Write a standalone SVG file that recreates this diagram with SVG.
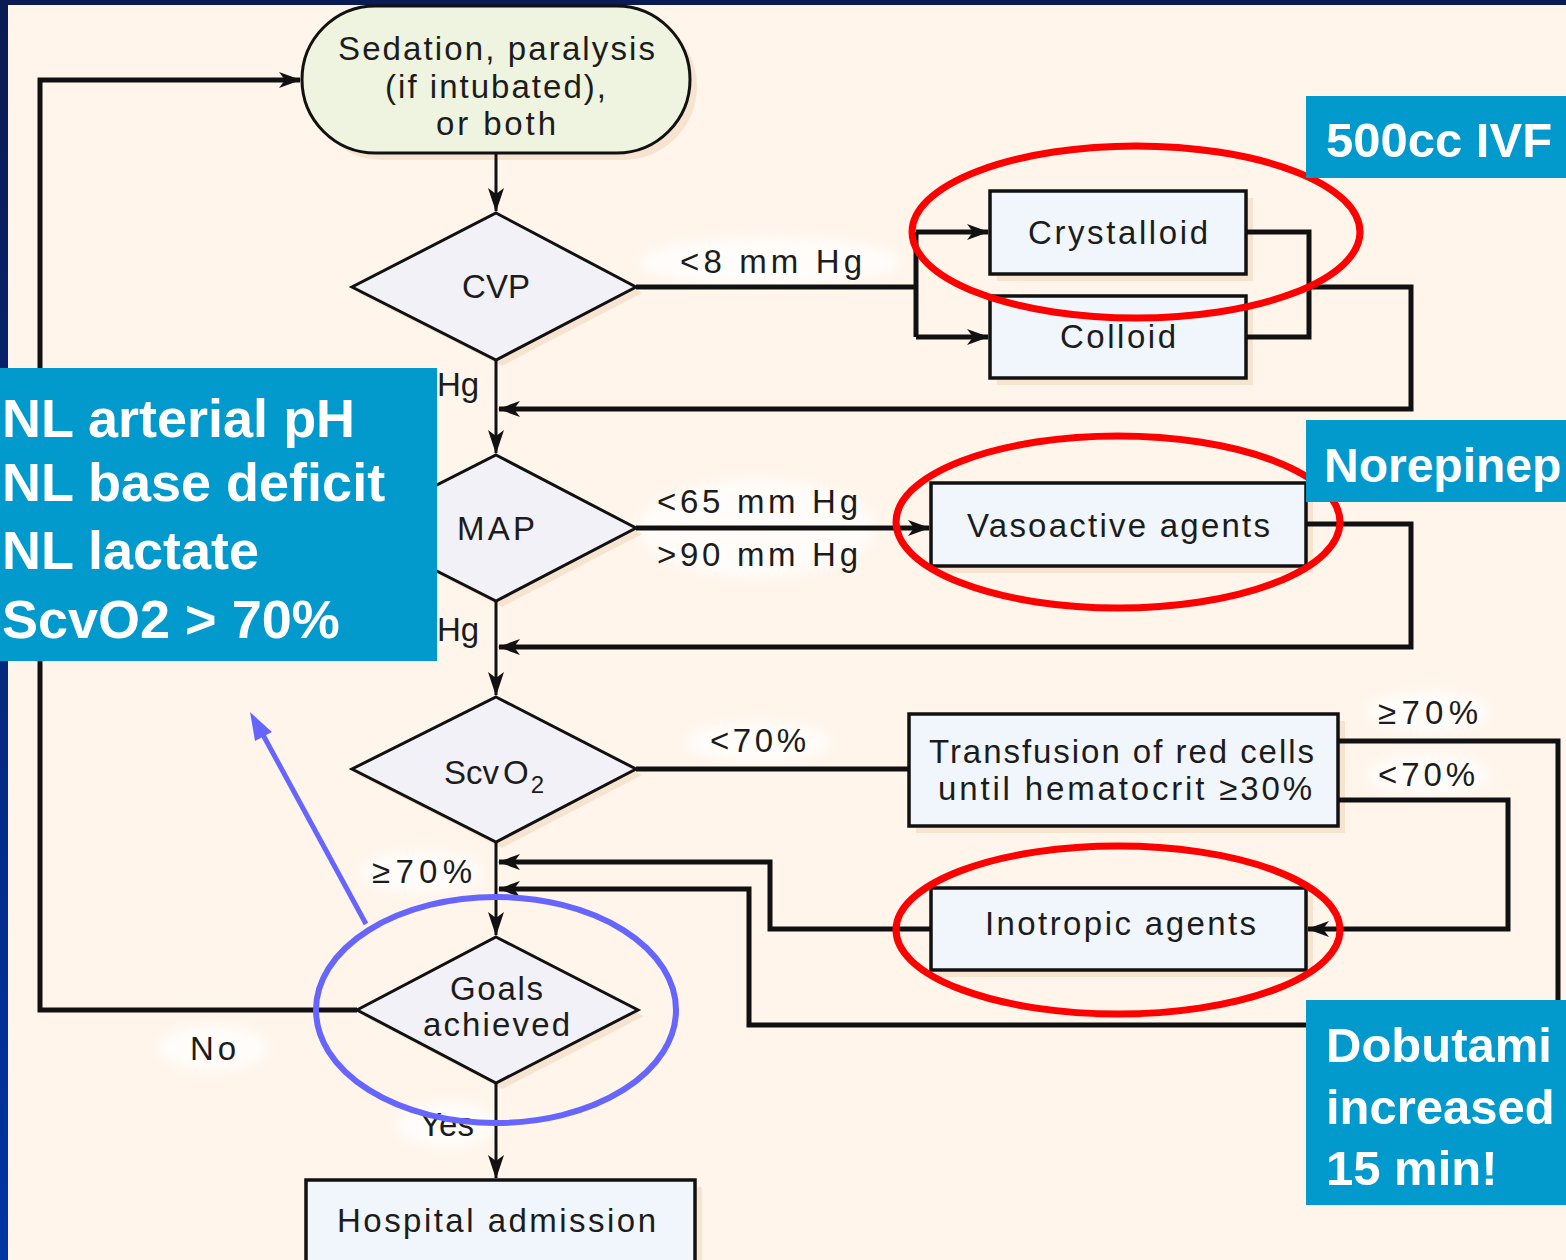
<svg xmlns="http://www.w3.org/2000/svg" width="1566" height="1260" viewBox="0 0 1566 1260">
<defs>
<linearGradient id="frameG" x1="0" y1="0" x2="0" y2="1">
<stop offset="0" stop-color="#0a1a52"/>
<stop offset="1" stop-color="#0035a5"/>
</linearGradient>
<filter id="glow" x="-30%" y="-50%" width="160%" height="200%"><feGaussianBlur stdDeviation="6"/></filter>
<marker id="ah" viewBox="0 0 22 16" refX="21" refY="8" markerWidth="22" markerHeight="16" markerUnits="userSpaceOnUse" orient="auto">
<path d="M0,0 L22,8 L0,16 L6,8 Z" fill="#111"/>
</marker>
<marker id="ahs" viewBox="0 0 24 16" refX="23" refY="8" markerWidth="24" markerHeight="16" markerUnits="userSpaceOnUse" orient="auto">
<path d="M0,0 L24,8 L0,16 L6,8 Z" fill="#111"/>
</marker>
</defs>
<style>
.t{font-family:"Liberation Sans",Arial,sans-serif;font-size:33px;fill:#1c1c1c;}
.box{fill:#f1f6fc;stroke:#111;stroke-width:3.5;}
.dia{fill:#f2f1f7;stroke:#111;stroke-width:3;}
.sh{fill:#f6e4d0;}
.thin{fill:none;stroke:#111;stroke-width:3;}
.thick{fill:none;stroke:#111;stroke-width:5;}
.gl{fill:#ffffff;opacity:0.75;filter:url(#glow);}
.red{fill:none;stroke:#ff0000;stroke-width:7;}
.pan{fill:#0299cc;}
.pt{font-family:"Liberation Sans",Arial,sans-serif;font-weight:bold;fill:#ffffff;}
</style>
<rect x="0" y="0" width="1566" height="1260" fill="#fff5eb"/>
<rect x="0" y="0" width="1566" height="5" fill="#0b1b55"/>
<rect x="0" y="0" width="8" height="1260" fill="url(#frameG)"/>

<g id="label-glows">
<ellipse class="gl" cx="770" cy="262" rx="130" ry="24"/>
<ellipse class="gl" cx="757" cy="528" rx="118" ry="48"/>
<ellipse class="gl" cx="758" cy="742" rx="72" ry="20"/>
<ellipse class="gl" cx="1428" cy="712" rx="62" ry="20"/>
<ellipse class="gl" cx="1428" cy="775" rx="62" ry="20"/>
<ellipse class="gl" cx="422" cy="872" rx="62" ry="20"/>
<ellipse class="gl" cx="213" cy="1048" rx="55" ry="22"/>
<ellipse class="gl" cx="447" cy="1125" rx="50" ry="22"/>
</g>

<g id="shadows">
<rect class="sh" x="309" y="13" width="388" height="147" rx="73.5"/>
<polygon class="sh" points="502,219 642,293 502,366 358,293"/>
<rect class="sh" x="997" y="198" width="256" height="83"/>
<rect class="sh" x="997" y="303" width="256" height="82"/>
<polygon class="sh" points="502,461 642,534 502,607 358,534"/>
<rect class="sh" x="938" y="490" width="375" height="83"/>
<polygon class="sh" points="502,703 642,775 502,848 358,775"/>
<rect class="sh" x="916" y="721" width="429" height="112"/>
<rect class="sh" x="938" y="895" width="375" height="82"/>
<polygon class="sh" points="502,943 644,1016 502,1089 363,1016"/>
<rect class="sh" x="313" y="1187" width="389" height="90"/>
</g>

<g id="connectors">
<path class="thin" d="M496,153 V211" marker-end="url(#ahs)"/>
<path class="thick" d="M636,287 H916"/>
<path class="thick" d="M916,232 V337"/>
<path class="thick" d="M916,232 H988" marker-end="url(#ah)"/>
<path class="thick" d="M916,337 H988" marker-end="url(#ah)"/>
<path class="thick" d="M1246,232 H1309 V337 H1246"/>
<path class="thick" d="M1309,287 H1411 V409 H499" marker-end="url(#ah)"/>
<path class="thin" d="M496,360 V453" marker-end="url(#ahs)"/>
<path class="thick" d="M636,528 H929" marker-end="url(#ah)"/>
<path class="thick" d="M1306,524 H1411 V647 H499" marker-end="url(#ah)"/>
<path class="thin" d="M496,601 V695" marker-end="url(#ahs)"/>
<path class="thick" d="M636,769 H909"/>
<path class="thick" d="M1338,741 H1558 V1025 H749 V889 H499" marker-end="url(#ah)"/>
<path class="thick" d="M1338,800 H1508 V929 H1308" marker-end="url(#ah)"/>
<path class="thick" d="M931,929 H770 V862 H499" marker-end="url(#ah)"/>
<path class="thin" d="M496,842 V935" marker-end="url(#ahs)"/>
<path class="thick" d="M357,1010 H40 V80 H300" marker-end="url(#ah)"/>
<path class="thin" d="M496,1083 V1178" marker-end="url(#ahs)"/>
</g>

<g id="node-start">
<rect x="302" y="6" width="388" height="147" rx="73.5" fill="#eef4df" stroke="#111" stroke-width="3"/>
<text class="t" x="338" y="60" textLength="317" lengthAdjust="spacing">Sedation, paralysis</text>
<text class="t" x="385" y="98" textLength="221" lengthAdjust="spacing">(if intubated),</text>
<text class="t" x="436" y="135" textLength="120" lengthAdjust="spacing">or both</text>
</g>

<g id="node-cvp">
<polygon class="dia" points="496,213 636,287 496,360 352,287"/>
<text class="t" x="462" y="298" textLength="68" lengthAdjust="spacing">CVP</text>
</g>

<g id="node-crystalloid">
<rect class="box" x="990" y="191" width="256" height="83"/>
<text class="t" x="1028" y="244" textLength="180" lengthAdjust="spacing">Crystalloid</text>
</g>

<g id="node-colloid">
<rect class="box" x="990" y="296" width="256" height="82"/>
<text class="t" x="1060" y="348" textLength="116" lengthAdjust="spacing">Colloid</text>
</g>

<g id="node-map">
<polygon class="dia" points="496,455 636,528 496,601 352,528"/>
<text class="t" x="457" y="540" textLength="78" lengthAdjust="spacing">MAP</text>
</g>

<g id="node-vasoactive">
<rect class="box" x="931" y="483" width="375" height="83"/>
<text class="t" x="967" y="537" textLength="303" lengthAdjust="spacing">Vasoactive agents</text>
</g>

<g id="node-scvo2">
<polygon class="dia" points="496,697 636,769 496,842 352,769"/>
<text class="t" x="444" y="784">Scv<tspan dx="4">O</tspan><tspan dx="2" dy="9" font-size="24">2</tspan></text>
</g>

<g id="node-transfusion">
<rect class="box" x="909" y="714" width="429" height="112"/>
<text class="t" x="929" y="763" textLength="385" lengthAdjust="spacing">Transfusion of red cells</text>
<text class="t" x="938" y="800" textLength="374" lengthAdjust="spacing">until hematocrit ≥30%</text>
</g>

<g id="node-inotropic">
<rect class="box" x="931" y="888" width="375" height="82"/>
<text class="t" x="985" y="935" textLength="271" lengthAdjust="spacing">Inotropic agents</text>
</g>

<g id="node-goals">
<polygon class="dia" points="496,937 638,1010 496,1083 357,1010"/>
<text class="t" x="450" y="1000" textLength="93" lengthAdjust="spacing">Goals</text>
<text class="t" x="423" y="1036" textLength="147" lengthAdjust="spacing">achieved</text>
</g>

<g id="node-hospital">
<rect class="box" x="306" y="1180" width="389" height="90"/>
<text class="t" x="337" y="1232" textLength="319" lengthAdjust="spacing">Hospital admission</text>
</g>

<g id="edge-labels">
<text class="t" x="680" y="273" textLength="182" lengthAdjust="spacing">&lt;8 mm Hg</text>
<text class="t" x="437" y="396">Hg</text>
<text class="t" x="657" y="513" textLength="201" lengthAdjust="spacing">&lt;65 mm Hg</text>
<text class="t" x="657" y="566" textLength="201" lengthAdjust="spacing">&gt;90 mm Hg</text>
<text class="t" x="437" y="641">Hg</text>
<text class="t" x="710" y="752" textLength="96" lengthAdjust="spacing">&lt;70%</text>
<text class="t" x="1378" y="724" textLength="100" lengthAdjust="spacing">≥70%</text>
<text class="t" x="1378" y="786" textLength="97" lengthAdjust="spacing">&lt;70%</text>
<text class="t" x="372" y="883" textLength="100" lengthAdjust="spacing">≥70%</text>
<text class="t" x="190" y="1060" textLength="46" lengthAdjust="spacing">No</text>
<text class="t" x="420" y="1136" textLength="54" lengthAdjust="spacing">Yes</text>
</g>

<g id="annotations">
<ellipse class="red" cx="1136" cy="232" rx="224" ry="86"/>
<ellipse class="red" cx="1118" cy="522" rx="222" ry="86"/>
<ellipse class="red" cx="1118" cy="930" rx="222" ry="84"/>
<ellipse cx="496" cy="1010" rx="180" ry="113" fill="none" stroke="#6666ff" stroke-width="6"/>
<line x1="366" y1="924" x2="262" y2="733" stroke="#6666ff" stroke-width="5"/>
<polygon points="250,712 272,732 255,741" fill="#6666ff"/>
</g>

<g id="panel-goals">
<rect class="pan" x="0" y="368" width="437" height="293"/>
<text class="pt" x="2" y="437" font-size="54">NL arterial pH</text>
<text class="pt" x="2" y="501" font-size="54">NL base deficit</text>
<text class="pt" x="2" y="569" font-size="54">NL lactate</text>
<text class="pt" x="2" y="638" font-size="54">ScvO2 &gt; 70%</text>
</g>

<g id="panel-ivf">
<rect class="pan" x="1306" y="96" width="260" height="82"/>
<text class="pt" x="1326" y="157" font-size="49">500cc IVF</text>
</g>

<g id="panel-norepi">
<rect class="pan" x="1306" y="420" width="260" height="82"/>
<text class="pt" x="1324" y="482" font-size="48">Norepinep</text>
</g>

<g id="panel-dobutamine">
<rect class="pan" x="1306" y="1000" width="260" height="205"/>
<text class="pt" x="1326" y="1062" font-size="49">Dobutami</text>
<text class="pt" x="1326" y="1124" font-size="49">increased</text>
<text class="pt" x="1326" y="1185" font-size="49">15 min!</text>
</g>
</svg>
